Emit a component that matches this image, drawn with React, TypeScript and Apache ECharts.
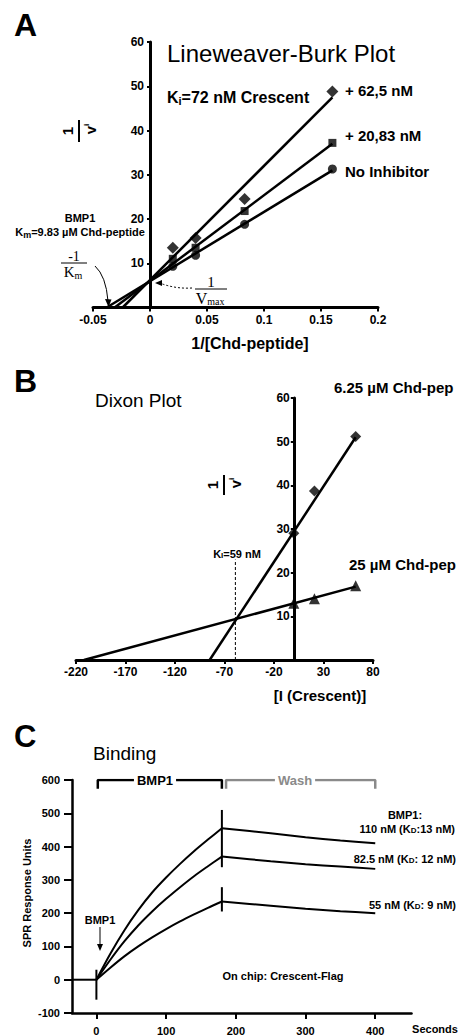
import React, { useEffect, useRef } from 'react';
import * as echarts from 'echarts';

// ---------- Panel A : Lineweaver-Burk ----------
const lbX = [0.02, 0.04, 0.083, 0.16];
const lbDiamond = [13.5, 15.7, 24.5, 48.8]; // + 62,5 nM
const lbSquare = [11, 13.5, 21.8, 37.2]; // + 20,83 nM
const lbCircle = [9.3, 11.8, 18.8, 31.3]; // No Inhibitor
const lbFitDiamond = [[-0.024, 0], [0.16, 47.5]];
const lbFitSquare = [[-0.031, 0], [0.16, 37]];
const lbFitCircle = [[-0.038, 0], [0.16, 31]];
const lbYLabels = [10, 20, 30, 40, 50, 60];

// ---------- Panel B : Dixon ----------
const dxX = [0, 20.83, 62.5];
const dxLow = [29, 38.7, 51.2]; // 6.25 µM Chd-pep
const dxHigh = [13, 14, 17]; // 25 µM Chd-pep
const dxFitLow = [[-85, 0], [62.5, 51]];
const dxFitHigh = [[-212, 0], [62.5, 16.8]];
const dxKi = [[-59, 0], [-59, 23]];
const dxXLabels = [-220, -170, -120, -70, -20, 30, 80];
const dxYLabels = [10, 20, 30, 40, 50, 60];

// ---------- Panel C : SPR binding ----------
const spAssocT = [0, 20, 40, 60, 80, 100, 120, 140, 160, 180];
const sp110Assoc = [0, 78, 148, 209, 262, 307, 348, 386, 421, 455];
const sp825Assoc = [0, 60, 115, 163, 205, 243, 278, 311, 341, 370];
const sp55Assoc = [0, 36, 70, 100, 127, 152, 175, 196, 216, 235];
const spDissT = [180, 250, 300, 350, 400];
const sp110Diss = [455, 440, 428, 418, 410];
const sp825Diss = [370, 356, 347, 340, 333];
const sp55Diss = [235, 222, 213, 206, 200];
const spBaseline = [[-35, 0], [0, 0]];
const spSpikeInject = [[0, 30], [0, -60]];
const spSpikeStopA = [[180, 510], [180, 338]];
const spSpikeStopB = [[180, 278], [180, 205]];
const spBracketBmp = [[2, 574], [2, 600], [180, 600], [180, 574]];
const spBracketWash = [[186, 574], [186, 600], [400, 600], [400, 574]];
const spXLabels = [0, 100, 200, 300, 400];

const SANS = 'Liberation Sans, Arial, sans-serif';
const SERIF = 'Liberation Serif, Times New Roman, serif';

const zip = (xs: number[], ys: number[]) => xs.map((x, i) => [x, ys[i]]);

function txt(text: string, x: number, y: number, size: number, opts: any = {}) {
  const align = opts.align || 'left';
  return {
    type: 'text',
    x,
    y,
    rotation: opts.rotation || 0,
    z: 100,
    style: {
      text,
      fill: opts.color || '#000',
      fontSize: size,
      fontWeight: opts.weight || 'bold',
      fontFamily: opts.family || SANS,
      align,
      textAlign: align,
      verticalAlign: 'middle',
      textVerticalAlign: 'middle',
      rich: opts.rich,
      backgroundColor: opts.bg,
      padding: opts.padding,
    },
  };
}

function fracV(cx: number, cy: number, barLen: number) {
  return {
    type: 'group',
    x: cx,
    y: cy,
    rotation: Math.PI / 2,
    z: 100,
    children: [
      { type: 'text', x: 0, y: -12, style: { text: '1', fill: '#000', fontSize: 15, fontWeight: 'bold', fontFamily: SANS, align: 'center', textAlign: 'center', verticalAlign: 'middle', textVerticalAlign: 'middle' } },
      { type: 'line', shape: { x1: -barLen / 2, y1: 0, x2: barLen / 2, y2: 0 }, style: { stroke: '#000', lineWidth: 2 } },
      { type: 'text', x: 2, y: 11, style: { text: 'v{s|i}', fill: '#000', fontSize: 15, fontWeight: 'bold', fontFamily: SANS, align: 'center', textAlign: 'center', verticalAlign: 'middle', textVerticalAlign: 'middle', rich: { s: { fontSize: 8, fontWeight: 'bold', fontFamily: SANS, padding: [0, 0, 8, 0] } } } },
    ],
  };
}

function axisCommon(width: number, fontSize: number) {
  return {
    axisLine: { lineStyle: { color: '#000', width } },
    splitLine: { show: false },
    axisLabel: { color: '#000', fontSize, fontWeight: 'bold', fontFamily: SANS },
  };
}

export default function App() {
  const ref = useRef<HTMLDivElement>(null);
  useEffect(() => {
    if (!ref.current) return;
    const chart = echarts.init(ref.current, null, { renderer: 'svg' });
    const fit = (data: any, xi: number, w = 2.5) => ({
      type: 'line', xAxisIndex: xi, yAxisIndex: xi, data, symbol: 'none',
      lineStyle: { color: '#000', width: w }, silent: true,
    });
    const sc = (data: any, xi: number, symbol: string, size: number) => ({
      type: 'scatter', xAxisIndex: xi, yAxisIndex: xi, data, symbol, symbolSize: size,
      itemStyle: { color: '#000' }, z: 5,
    });
    const curve = (data: any) => ({
      type: 'line', xAxisIndex: 2, yAxisIndex: 2, data, symbol: 'none', smooth: 0.3,
      lineStyle: { color: '#000', width: 2 }, silent: true,
    });
    const subRich = {
      s: { fontSize: 11, fontWeight: 'bold', fontFamily: SANS, padding: [8, 0, 0, 0] },
    };
    const kdRich = {
      d: { fontSize: 8, fontWeight: 'bold', fontFamily: SANS, padding: [2, 0, 0, 0] },
    };
    const option: any = {
      animation: false,
      backgroundColor: '#fff',
      grid: [
        { left: 93, top: 42, width: 285, height: 265.5 },
        { left: 76, top: 398, width: 297, height: 262 },
        { left: 72, top: 780, width: 339.5, height: 233 },
      ],
      xAxis: [
        {
          gridIndex: 0, type: 'value', min: -0.05, max: 0.2, interval: 0.05,
          ...axisCommon(3, 12),
          axisLine: { onZero: false, lineStyle: { color: '#000', width: 3 } },
          axisTick: { show: true, length: 4, lineStyle: { color: '#000', width: 2 } },
          axisLabel: { color: '#000', fontSize: 12, fontWeight: 'bold', fontFamily: SANS, margin: 6 },
        },
        {
          gridIndex: 1, type: 'value', min: -220, max: 80,
          ...axisCommon(3, 12),
          axisLine: { onZero: false, lineStyle: { color: '#000', width: 3 } },
          axisTick: { show: true, length: 4, customValues: dxXLabels, lineStyle: { color: '#000', width: 2 } },
          axisLabel: { color: '#000', fontSize: 12, fontWeight: 'bold', fontFamily: SANS, margin: 6, customValues: dxXLabels },
        },
        {
          gridIndex: 2, type: 'value', min: -35, max: 452,
          ...axisCommon(2.5, 11),
          axisLine: { onZero: false, lineStyle: { color: '#000', width: 2.5 } },
          axisTick: { show: true, length: 6, customValues: spXLabels, lineStyle: { color: '#000', width: 2 } },
          axisLabel: { color: '#000', fontSize: 11, fontWeight: 'bold', fontFamily: SANS, margin: 12, customValues: spXLabels },
        },
      ],
      yAxis: [
        {
          gridIndex: 0, type: 'value', min: 0, max: 60, offset: -57,
          ...axisCommon(3, 12),
          axisLine: { onZero: false, lineStyle: { color: '#000', width: 3 } },
          axisTick: { show: true, length: 3, customValues: lbYLabels, lineStyle: { color: '#000', width: 2 } },
          axisLabel: { color: '#000', fontSize: 12, fontWeight: 'bold', fontFamily: SANS, margin: 6, customValues: lbYLabels },
        },
        {
          gridIndex: 1, type: 'value', min: 0, max: 60, offset: -217.8,
          ...axisCommon(3, 12),
          axisLine: { onZero: false, lineStyle: { color: '#000', width: 3 } },
          axisTick: { show: true, length: 3, customValues: dxYLabels, lineStyle: { color: '#000', width: 2 } },
          axisLabel: { color: '#000', fontSize: 12, fontWeight: 'bold', fontFamily: SANS, margin: 4, customValues: dxYLabels },
        },
        {
          gridIndex: 2, type: 'value', min: -100, max: 600, interval: 100,
          ...axisCommon(2.5, 11),
          axisLine: { onZero: false, lineStyle: { color: '#000', width: 2.5 } },
          axisTick: { show: true, length: 8, lineStyle: { color: '#000', width: 2 } },
          axisLabel: { color: '#000', fontSize: 11, fontWeight: 'bold', fontFamily: SANS, margin: 12 },
        },
      ],
      series: [
        fit(lbFitDiamond, 0), fit(lbFitSquare, 0), fit(lbFitCircle, 0),
        sc(zip(lbX, lbDiamond), 0, 'diamond', 12),
        sc(zip(lbX, lbSquare), 0, 'rect', 8),
        sc(zip(lbX, lbCircle), 0, 'circle', 9),
        fit(dxFitLow, 1), fit(dxFitHigh, 1),
        { type: 'line', xAxisIndex: 1, yAxisIndex: 1, data: dxKi, symbol: 'none', silent: true,
          lineStyle: { color: '#000', width: 1, type: [3, 2] } },
        sc(zip(dxX, dxLow), 1, 'diamond', 11),
        sc(zip(dxX, dxHigh), 1, 'triangle', 11),
        fit(spBaseline, 2, 2),
        curve(zip(spAssocT, sp110Assoc)), curve(zip(spAssocT, sp825Assoc)), curve(zip(spAssocT, sp55Assoc)),
        curve(zip(spDissT, sp110Diss)), curve(zip(spDissT, sp825Diss)), curve(zip(spDissT, sp55Diss)),
        fit(spSpikeInject, 2, 2), fit(spSpikeStopA, 2, 2), fit(spSpikeStopB, 2, 2),
        fit(spBracketBmp, 2, 2.5),
        { type: 'line', xAxisIndex: 2, yAxisIndex: 2, data: spBracketWash, symbol: 'none', silent: true,
          lineStyle: { color: '#8a8a8a', width: 2.5 } },
      ],
      graphic: [
        // Panel A
        txt('A', 14, 25, 32),
        txt('Lineweaver-Burk Plot', 167, 53, 24, { weight: 'normal' }),
        txt('K{s|i}=72 nM Crescent', 167, 97, 16, { rich: subRich }),
        txt('+ 62,5 nM', 345, 90, 15),
        txt('+ 20,83 nM', 345, 135, 15),
        txt('No Inhibitor', 345, 171, 15),
        fracV(79, 131, 22),
        txt('BMP1', 80, 218, 11, { align: 'center' }),
        txt('K{s|m}=9.83 µM Chd-peptide', 80, 232, 11, { align: 'center', rich: { s: { fontSize: 9, fontWeight: 'bold', fontFamily: SANS, padding: [6, 0, 0, 0] } } }),
        txt('-1', 74, 256, 14, { align: 'center', weight: 'normal', family: SERIF }),
        { type: 'line', shape: { x1: 61, y1: 263, x2: 87, y2: 263 }, style: { stroke: '#000', lineWidth: 1 } },
        txt('K{s|m}', 73, 272, 15, { align: 'center', weight: 'normal', family: SERIF, rich: { s: { fontSize: 10, fontFamily: SERIF, padding: [6, 0, 0, 0] } } }),
        { type: 'bezierCurve', shape: { x1: 95, y1: 266, x2: 108, y2: 301, cpx1: 106, cpy1: 276 }, style: { stroke: '#000', lineWidth: 1, fill: null } },
        { type: 'polygon', shape: { points: [[108.5, 307], [105, 299], [111.5, 299.5]] }, style: { fill: '#000' } },
        txt('1', 211, 282, 15, { align: 'center', weight: 'normal', family: SERIF }),
        { type: 'line', shape: { x1: 195, y1: 289, x2: 227, y2: 289 }, style: { stroke: '#000', lineWidth: 1 } },
        txt('V{s|max}', 210, 298, 16, { align: 'center', weight: 'normal', family: SERIF, rich: { s: { fontSize: 10, fontFamily: SERIF, padding: [7, 0, 0, 0] } } }),
        { type: 'bezierCurve', shape: { x1: 192, y1: 288, x2: 161, y2: 283.5, cpx1: 176, cpy1: 289 }, style: { stroke: '#000', lineWidth: 1, lineDash: [2, 2], fill: null } },
        { type: 'polygon', shape: { points: [[155, 283], [162, 280], [162, 286]] }, style: { fill: '#000' } },
        txt('1/[Chd-peptide]', 250, 343, 16, { align: 'center' }),
        // Panel B
        txt('B', 14, 381, 32),
        txt('Dixon Plot', 95, 400, 19, { weight: 'normal' }),
        fracV(224, 485, 20),
        txt('6.25 µM Chd-pep', 334, 387, 15),
        txt('25 µM Chd-pep', 349, 564, 15),
        txt('K{s|I}=59 nM', 237, 554, 11, { align: 'center', rich: { s: { fontSize: 8, fontWeight: 'bold', fontFamily: SANS, padding: [2, 0, 0, 0] } } }),
        txt('[I (Crescent)]', 320, 695, 15, { align: 'center' }),
        // Panel C
        txt('C', 14, 736, 31),
        txt('Binding', 93, 753, 19, { weight: 'normal' }),
        txt('BMP1', 155, 780, 13, { align: 'center', bg: '#fff', padding: [0, 3, 0, 3] }),
        txt('Wash', 295, 780, 13, { align: 'center', color: '#8a8a8a', bg: '#fff', padding: [0, 3, 0, 3] }),
        txt('BMP1:', 405, 815, 11, { align: 'center' }),
        txt('110 nM (K{d|D}:13 nM)', 455, 829, 11, { align: 'right', rich: kdRich }),
        txt('82.5 nM (K{d|D}: 12 nM)', 456, 859, 11, { align: 'right', rich: kdRich }),
        txt('55 nM (K{d|D}: 9 nM)', 456, 905, 11, { align: 'right', rich: kdRich }),
        txt('BMP1', 100, 920, 11, { align: 'center' }),
        { type: 'line', shape: { x1: 100, y1: 927, x2: 100, y2: 945 }, style: { stroke: '#000', lineWidth: 1 } },
        { type: 'polygon', shape: { points: [[100, 951], [97, 944], [103, 944]] }, style: { fill: '#000' } },
        txt('On chip: Crescent-Flag', 283, 976, 11, { align: 'center' }),
        txt('SPR Response Units', 27, 893, 11, { align: 'center', rotation: Math.PI / 2 }),
        txt('Seconds', 435, 1029, 11, { align: 'center' }),
      ],
    };
    chart.setOption(option);
    return () => chart.dispose();
  }, []);
  return (
    <div
      ref={ref}
      style={{ position: 'absolute', left: 0, top: 0, width: 461, height: 1036, background: '#fff' }}
    />
  );
}
